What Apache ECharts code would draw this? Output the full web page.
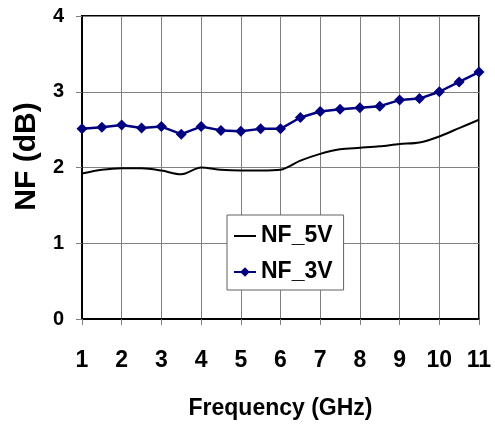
<!DOCTYPE html>
<html>
<head>
<meta charset="utf-8">
<script src="https://cdn.jsdelivr.net/npm/echarts@6/dist/echarts.min.js"></script>
<style>
html,body{margin:0;padding:0;background:#fff;}
#chart{width:495px;height:427px;}
</style>
</head>
<body>
<div id="chart"></div>
<script>
var freq = [1,1.5,2,2.5,3,3.5,4,4.5,5,5.5,6,6.5,7,7.5,8,8.5,9,9.5,10,10.5,11];
var nf5v = [1.92,1.97,1.99,1.99,1.96,1.91,2.00,1.97,1.96,1.96,1.97,2.09,2.18,2.24,2.26,2.28,2.31,2.33,2.41,2.52,2.63];
var nf3v = [2.51,2.53,2.56,2.52,2.54,2.44,2.54,2.49,2.48,2.51,2.51,2.66,2.74,2.77,2.79,2.81,2.89,2.91,3.00,3.13,3.26];
var xTicks = [1,2,3,4,5,6,7,8,9,10,11];
var yTicks = [0,1,2,3,4];

var FONT = '"Liberation Sans", Arial, sans-serif';
var chart = echarts.init(document.getElementById('chart'), null, {renderer:'canvas'});
function pairs(arr){ return freq.map(function(f,i){ return [f, arr[i]]; }); }
chart.setOption({
  animation:false,
  backgroundColor:'#fff',
  grid:{left:82,right:16,top:16,bottom:108,show:true,borderColor:'#000',borderWidth:2,backgroundColor:'transparent'},
  xAxis:{
    type:'value', min:xTicks[0], max:xTicks[xTicks.length-1], interval:1,
    name:'Frequency (GHz)', nameLocation:'middle', nameGap:78,
    nameTextStyle:{fontFamily:FONT,fontWeight:'bold',fontSize:23,color:'#000'},
    axisLine:{show:true,lineStyle:{color:'#000',width:2}},
    axisTick:{show:true,length:6,lineStyle:{color:'#808080',width:1}},
    axisLabel:{fontFamily:FONT,fontWeight:'bold',fontSize:23,color:'#000',margin:30},
    splitLine:{show:true,lineStyle:{color:'#808080',width:1}}
  },
  yAxis:{
    type:'value', min:yTicks[0], max:yTicks[yTicks.length-1], interval:1,
    name:'NF (dB)', nameLocation:'middle', nameGap:36,
    nameTextStyle:{fontFamily:FONT,fontWeight:'bold',fontSize:30,color:'#000',padding:[0,0,0,22]},
    axisLine:{show:true,lineStyle:{color:'#000',width:2}},
    axisTick:{show:true,length:6,lineStyle:{color:'#808080',width:1}},
    axisLabel:{fontFamily:FONT,fontWeight:'bold',fontSize:20,color:'#000',margin:18},
    splitLine:{show:true,lineStyle:{color:'#808080',width:1}}
  },
  legend:{
    orient:'vertical', left:227, top:215,
    backgroundColor:'#fff', borderColor:'#606060', borderWidth:1,
    padding:[8,11,5,6], itemGap:10, itemWidth:22, itemHeight:12,
    textStyle:{fontFamily:FONT,fontWeight:'bold',fontSize:23,color:'#000',lineHeight:26},
    data:[{name:'NF_5V',itemStyle:{opacity:0}},'NF_3V']
  },
  series:[
    {name:'NF_5V',type:'line',data:pairs(nf5v),smooth:0.3,symbol:'none',
     lineStyle:{color:'#000',width:2},itemStyle:{color:'#000'}},
    {name:'NF_3V',type:'line',data:pairs(nf3v),symbol:'diamond',symbolSize:11,
     lineStyle:{color:'#000080',width:2.5},itemStyle:{color:'#000080'}}
  ]
});
</script>
</body>
</html>
